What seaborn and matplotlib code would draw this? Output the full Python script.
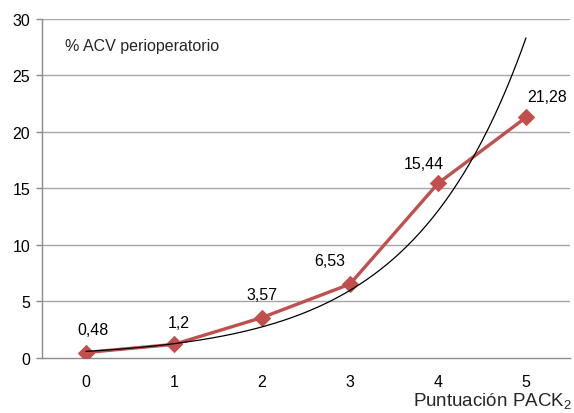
import numpy as np
import pandas as pd
import matplotlib
matplotlib.use("Agg")
import matplotlib.pyplot as plt
import seaborn as sns

# data
pack_score = [0, 1, 2, 3, 4, 5]
acv_pct = [0.48, 1.2, 3.57, 6.53, 15.44, 21.28]
value_labels = ["0,48", "1,2", "3,57", "6,53", "15,44", "21,28"]

y_ticks = [0, 5, 10, 15, 20, 25, 30]

# label nudges (pixels) to mimic the original placement
label_dx = [7, 5, 0, -20, -14, 21]
label_dy = [16, 14, 16, 16, 12, 13]

sns.set_theme(style="white")
plt.rcParams["font.family"] = ["Liberation Sans", "DejaVu Sans"]
plt.rcParams["mathtext.fontset"] = "custom"
plt.rcParams["mathtext.rm"] = "Liberation Sans"

df = pd.DataFrame({"x": pack_score, "y": acv_pct})

# exponential trendline fitted on the data (like Excel)
b, ln_a = np.polyfit(df["x"], np.log(df["y"]), 1)
xs = np.linspace(min(pack_score), max(pack_score), 200)
trend = pd.DataFrame({"x": xs, "y": np.exp(ln_a) * np.exp(b * xs)})

fig = plt.figure(figsize=(5.74, 4.14), dpi=100)
ax = fig.add_axes([0.073, 0.133, 0.92, 0.819])

for yv in y_ticks[1:]:
    ax.axhline(yv, color="#a6a6a6", lw=1, zorder=0)

sns.lineplot(data=df, x="x", y="y", ax=ax, color="#c0504d", lw=2.4,
             marker="D", markersize=8, markeredgecolor="#c0504d", zorder=3)
sns.lineplot(data=trend, x="x", y="y", ax=ax, color="black", lw=0.9, zorder=4)

for x, y, t, dx, dy in zip(pack_score, acv_pct, value_labels, label_dx, label_dy):
    ax.annotate(t, (x, y), xytext=(dx * 0.72, dy * 0.72), textcoords="offset points",
                ha="center", va="bottom", fontsize=11.5, color="black")

ax.set_xlim(-0.5, 5.5)
ax.set_ylim(0, 30)
ax.set_xticks(pack_score)
ax.set_xticks(np.arange(-0.5, 5.6, 1), minor=True)
ax.set_yticks(y_ticks)
ax.tick_params(axis="x", which="major", length=0, pad=11.5, labelsize=11.5, colors="black")
ax.tick_params(axis="x", which="minor", length=4.5, width=1, color="#8c8c8c", direction="out")
ax.tick_params(axis="y", length=4.5, width=1, color="#8c8c8c", direction="out",
               pad=4, labelsize=11.5, labelcolor="black", left=True)
ax.set_xlabel("")
ax.set_ylabel("")

for side in ["top", "right"]:
    ax.spines[side].set_visible(False)
for side in ["left", "bottom"]:
    ax.spines[side].set_color("#8c8c8c")
    ax.spines[side].set_linewidth(1)

ax.text(0.044, 0.92, "% ACV perioperatorio", transform=ax.transAxes,
        fontsize=11.5, va="center", ha="left")
fig.text(0.997, 0.004, r"Puntuación PACK$_\mathrm{2}$", ha="right", va="bottom", fontsize=13.5)

fig.savefig("out.png", dpi=100)
